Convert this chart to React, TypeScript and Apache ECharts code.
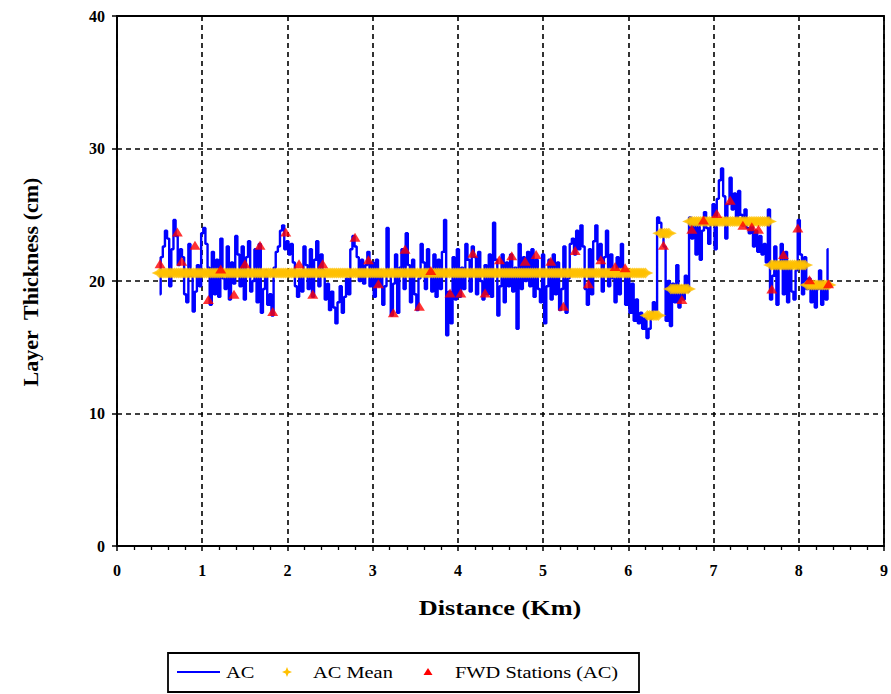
import React, { useEffect, useRef } from "react";
import * as echarts from "echarts";

// AC layer thickness profile, sampled every 25 m from 0.5 km
const AC_START_KM = 0.5;
const AC_STEP_KM = 0.025;
const acThickness = [
  // 0.50 - 0.975
  19.0, 21.8, 22.6, 23.8, 23.2, 19.6, 22.4, 24.6, 23.4, 21.2,
  22.4, 21.8, 19.0, 18.4, 22.8, 20.4, 17.7, 19.2, 21.2, 19.6,
  // 1.00 - 1.975
  23.6, 24.0, 22.8, 21.0, 18.2, 22.2, 19.0, 21.6, 18.8, 23.2,
  20.2, 19.4, 22.6, 18.6, 21.4, 19.8, 23.4, 22.0, 19.6, 22.6,
  18.6, 21.8, 23.0, 19.2, 20.0, 22.4, 18.4, 22.8, 17.6, 19.4,
  20.8, 18.2, 19.0, 17.4, 21.0, 22.2, 22.6, 23.8, 24.2, 22.4,
  // 2.00 - 2.975
  23.0, 22.0, 22.8, 21.4, 19.6, 18.8, 20.4, 19.2, 22.6, 21.2,
  19.4, 22.4, 18.8, 21.6, 23.0, 19.6, 22.0, 20.8, 18.6, 19.8,
  17.8, 19.2, 18.0, 16.8, 18.4, 19.6, 17.6, 18.8, 20.2, 19.0,
  22.4, 23.4, 22.6, 21.8, 20.0, 21.6, 19.8, 21.2, 22.2, 19.6,
  // 3.00 - 3.975
  21.4, 18.8, 21.6, 19.6, 20.8, 18.2, 19.6, 24.0, 20.6, 17.4,
  19.8, 22.0, 17.6, 21.0, 22.4, 19.4, 23.6, 21.2, 18.4, 21.6,
  19.0, 17.8, 20.2, 22.8, 21.4, 19.4, 22.4, 20.6, 19.2, 22.0,
  18.8, 21.6, 19.4, 22.2, 24.6, 15.9, 19.2, 16.8, 21.8, 18.6,
  // 4.00 - 4.975
  22.4, 18.8, 21.0, 19.4, 22.8, 21.6, 19.2, 22.6, 21.8, 19.0,
  22.2, 20.0, 18.6, 21.2, 19.0, 22.0, 18.8, 24.4, 21.6, 17.4,
  19.6, 22.0, 18.4, 21.4, 19.6, 22.0, 19.2, 21.0, 16.4, 22.8,
  19.4, 21.8, 20.0, 22.2, 19.6, 22.4, 18.8, 21.6, 19.4, 18.4,
  // 5.00 - 5.975
  22.0, 16.8, 19.6, 21.6, 18.6, 22.0, 19.0, 21.4, 17.8, 19.4,
  22.6, 17.6, 20.2, 22.8, 23.2, 22.0, 23.8, 22.4, 24.2, 22.6,
  19.4, 18.2, 22.4, 19.0, 23.0, 24.2, 21.6, 22.8, 19.2, 21.8,
  23.8, 19.6, 22.0, 20.2, 18.4, 21.8, 19.0, 22.8, 20.6, 18.2,
  // 6.00 - 6.975
  20.6, 17.6, 19.8, 17.0, 18.6, 16.8, 17.6, 16.4, 17.2, 15.7,
  16.4, 17.2, 18.4, 17.8, 24.8, 24.4, 23.6, 22.6, 17.0, 20.0,
  16.6, 19.8, 18.4, 21.2, 18.0, 19.6, 18.6, 20.4, 19.2, 24.8,
  23.2, 24.6, 22.0, 24.4, 21.6, 23.8, 25.2, 24.0, 22.8, 24.6,
  // 7.00 - 7.975
  25.8, 22.4, 26.2, 27.6, 28.5, 26.4, 23.2, 25.8, 27.8, 25.4,
  26.6, 24.8, 26.8, 25.0, 24.2, 25.4, 24.0, 23.6, 24.6, 22.6,
  23.8, 22.2, 23.4, 22.0, 22.8, 21.4, 25.4, 18.6, 20.4, 22.6,
  18.2, 21.4, 22.8, 19.0, 22.2, 18.4, 21.2, 19.2, 18.6, 20.8,
  // 8.00 - 8.35
  24.6, 22.0, 19.0, 21.8, 19.4, 20.2, 18.4, 19.6, 18.0, 19.4,
  20.8, 18.2, 19.8, 18.6, 22.4,
];

// Homogeneous sections and their mean AC thickness
const meanFromKm = [0.5, 6.225, 6.375, 6.5, 6.725, 7.675, 8.1];
const meanToKm = [6.2, 6.35, 6.475, 6.7, 7.65, 8.075, 8.35];
const meanThickness = [20.6, 17.4, 23.6, 19.4, 24.5, 21.2, 19.7];

// FWD test stations
const fwdKm = [
  0.505, 0.708, 0.759, 0.915, 1.072, 1.217, 1.373, 1.502, 1.678, 1.827,
  1.98, 2.136, 2.297, 2.414, 2.793, 2.95, 3.067, 3.243, 3.38, 3.548,
  3.682, 3.908, 4.034, 4.175, 4.319, 4.487, 4.632, 4.789, 4.918, 5.09,
  5.238, 5.376, 5.532, 5.677, 5.845, 5.962, 6.412, 6.628, 6.745, 6.882,
  7.038, 7.195, 7.344, 7.449, 7.527, 7.684, 7.82, 7.989, 8.126, 8.349,
];
const fwdThickness = [
  21.3, 23.7, 21.5, 22.7, 18.6, 20.9, 19.0, 21.3, 22.7, 17.7,
  23.7, 21.3, 19.0, 21.3, 23.3, 21.6, 19.8, 17.6, 22.4, 18.1,
  20.8, 19.1, 19.1, 22.1, 19.1, 21.6, 21.9, 21.5, 22.0, 21.5,
  18.1, 22.3, 19.8, 21.6, 21.1, 21.0, 22.7, 18.6, 23.9, 24.6,
  25.1, 26.1, 24.2, 24.1, 23.9, 19.4, 22.0, 24.0, 20.1, 19.8,
];

const X_MIN = 0;
const X_MAX = 9;
const Y_MIN = 0;
const Y_MAX = 40;

const SERIF = '"Liberation Serif", "Times New Roman", serif';
// four-pointed star with a fat body, so overlapping markers merge into a band
const STAR =
  "path://M10,0 L14,6 L20,10 L14,14 L10,20 L6,14 L0,10 L6,6 Z";

const acPoints = acThickness.map((v, i) => [
  +(AC_START_KM + i * AC_STEP_KM).toFixed(3),
  v,
]);

const meanPoints: number[][] = [];
acPoints.forEach(([km]) => {
  for (let j = 0; j < meanThickness.length; j++) {
    if (km >= meanFromKm[j] - 1e-9 && km <= meanToKm[j] + 1e-9) {
      meanPoints.push([km, meanThickness[j]]);
      break;
    }
  }
});

const fwdPoints = fwdKm.map((km, i) => [km, fwdThickness[i]]);

const axisCommon = {
  axisLine: { show: true, onZero: false, lineStyle: { color: "#000", width: 1.8 } },
  axisTick: { show: true, length: 5, lineStyle: { color: "#000", width: 1.5 } },
  splitLine: {
    show: true,
    lineStyle: { color: "#000", width: 1.6, type: [5, 4] as number[] },
  },
  axisLabel: {
    color: "#000",
    fontFamily: SERIF,
    fontWeight: "bold" as const,
    fontSize: 16,
  },
};

export default function App() {
  const ref = useRef<HTMLDivElement>(null);

  useEffect(() => {
    if (!ref.current) return;
    const chart = echarts.init(ref.current, undefined, { renderer: "svg" });

    const legendY = 672;
    chart.setOption({
      animation: false,
      backgroundColor: "#fff",
      grid: {
        left: 117,
        right: 7,
        top: 16,
        bottom: 148,
        show: true,
        borderColor: "#000",
        borderWidth: 1.8,
        backgroundColor: "transparent",
      },
      xAxis: {
        type: "value",
        min: X_MIN,
        max: X_MAX,
        interval: 1,
        ...axisCommon,
        minorTick: {
          show: true,
          splitNumber: 5,
          length: 4,
          lineStyle: { color: "#000", width: 1.3 },
        },
        axisLabel: { ...axisCommon.axisLabel, margin: 16 },
      },
      yAxis: {
        type: "value",
        min: Y_MIN,
        max: Y_MAX,
        interval: 10,
        ...axisCommon,
        axisLabel: { ...axisCommon.axisLabel, margin: 12 },
      },
      series: [
        {
          name: "AC",
          type: "line",
          step: "middle",
          data: acPoints,
          symbol: "none",
          lineStyle: { color: "#0000FF", width: 2.4 },
          z: 2,
        },
        {
          name: "AC Mean",
          type: "scatter",
          data: meanPoints,
          symbol: STAR,
          symbolSize: [16, 11],
          itemStyle: { color: "#FFC000" },
          z: 3,
        },
        {
          name: "FWD Stations (AC)",
          type: "scatter",
          data: fwdPoints,
          symbol: "triangle",
          symbolSize: [11, 9],
          itemStyle: { color: "#FF0000" },
          z: 4,
        },
      ],
      graphic: [
        {
          type: "text",
          x: 500,
          y: 608,
          scaleX: 1.25,
          style: {
            text: "Distance (Km)",
            font: `bold 21px ${SERIF}`,
            fill: "#000",
            textAlign: "center",
            textVerticalAlign: "middle",
          },
        },
        {
          type: "text",
          x: 30,
          y: 282,
          rotation: Math.PI / 2,
          style: {
            text: "Layer  Thickness (cm)",
            font: `bold 22px ${SERIF}`,
            fill: "#000",
            textAlign: "center",
            textVerticalAlign: "middle",
          },
        },
        {
          type: "rect",
          shape: { x: 168, y: 653, width: 471, height: 39 },
          style: { fill: "#fff", stroke: "#000", lineWidth: 1.8 },
        },
        {
          type: "line",
          shape: { x1: 177, y1: legendY, x2: 220, y2: legendY },
          style: { stroke: "#0000FF", lineWidth: 2 },
        },
        {
          type: "polygon",
          shape: {
            points: [
              [287, legendY - 5],
              [288.4, legendY - 1.4],
              [292, legendY],
              [288.4, legendY + 1.4],
              [287, legendY + 5],
              [285.6, legendY + 1.4],
              [282, legendY],
              [285.6, legendY - 1.4],
            ],
          },
          style: { fill: "#FFC000" },
        },
        {
          type: "polygon",
          shape: {
            points: [
              [428, legendY - 4],
              [432.5, legendY + 3],
              [423.5, legendY + 3],
            ],
          },
          style: { fill: "#FF0000" },
        },
        ...[
          { text: "AC", x: 226 },
          { text: "AC Mean", x: 313 },
          { text: "FWD Stations (AC)", x: 455 },
        ].map((t) => ({
          type: "text",
          x: t.x,
          y: legendY,
          scaleX: 1.2,
          style: {
            text: t.text,
            font: `17px ${SERIF}`,
            fill: "#000",
            textAlign: "left",
            textVerticalAlign: "middle",
          },
        })),
      ],
    });

    return () => chart.dispose();
  }, []);

  return (
    <div
      ref={ref}
      style={{ position: "fixed", left: 0, top: 0, width: 891, height: 694 }}
    />
  );
}
